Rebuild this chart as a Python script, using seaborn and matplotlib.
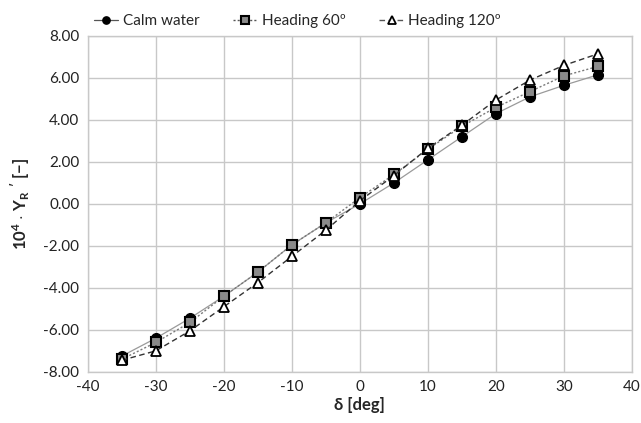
import matplotlib
matplotlib.use("Agg")
import matplotlib.pyplot as plt
import seaborn as sns
import pandas as pd

delta = [-35, -30, -25, -20, -15, -10, -5, 0, 5, 10, 15, 20, 25, 30, 35]
calm = [-7.25, -6.4, -5.45, -4.4, -3.25, -1.95, -0.9, 0.0, 1.0, 2.1, 3.2, 4.3, 5.1, 5.65, 6.15]
head60 = [-7.4, -6.6, -5.65, -4.4, -3.25, -1.95, -0.9, 0.3, 1.4, 2.6, 3.7, 4.6, 5.35, 6.1, 6.55]
head120 = [-7.45, -7.0, -6.05, -4.9, -3.75, -2.5, -1.25, 0.15, 1.35, 2.65, 3.75, 4.95, 5.9, 6.6, 7.15]
series_names = ["Calm water", "Heading 60º", "Heading 120º"]
xticks = [-40, -30, -20, -10, 0, 10, 20, 30, 40]
yticks = [-8, -6, -4, -2, 0, 2, 4, 6, 8]

df = pd.DataFrame({"delta": delta * 3,
                   "Y": calm + head60 + head120,
                   "series": [series_names[0]] * 15 + [series_names[1]] * 15 + [series_names[2]] * 15})

sns.set_theme(style="whitegrid")
plt.rcParams['font.family'] = ['Lato', 'DejaVu Sans']
plt.rcParams['mathtext.fontset'] = 'custom'
plt.rcParams['mathtext.rm'] = 'Lato'
plt.rcParams['mathtext.bf'] = 'Lato:bold'

fig = plt.figure(figsize=(6.41, 4.23), dpi=100)
ax = fig.add_axes([0.137, 0.121, 0.849, 0.794])

styles = {
    series_names[0]: dict(color="#9a9a9a", ls="-", lw=0.9, marker="o", mfc="black", mec="black", ms=7),
    series_names[1]: dict(color="#7a7a7a", ls=(0, (1.5, 1.5)), lw=1.0, marker="s", mfc="#8a8a8a", mec="black", ms=7, mew=1.5),
    series_names[2]: dict(color="#333333", ls=(0, (4, 2.5)), lw=1.0, marker="^", mfc="white", mec="black", ms=7, mew=1.3),
}
for name in series_names:
    st = styles[name]
    sub = df[df.series == name]
    sns.lineplot(data=sub, x="delta", y="Y", ax=ax, label=name, color=st["color"],
                 linestyle=st["ls"], linewidth=st["lw"], marker=st["marker"],
                 markerfacecolor=st["mfc"], markeredgecolor=st["mec"], markersize=st["ms"],
                 markeredgewidth=st.get("mew", 1.0))

ax.set_xlim(-40, 40)
ax.set_ylim(-8, 8)
ax.set_xticks(xticks)
ax.set_xticklabels([str(t) for t in xticks])
ax.set_yticks(yticks)
ax.set_yticklabels([f"{t:.2f}" for t in yticks])
ax.tick_params(labelsize=11, colors="#222222", pad=6, length=0)
ax.grid(True, color="#c8c8c8", lw=1.0)
for s in ax.spines.values():
    s.set_color("#c8c8c8")
    s.set_linewidth(1.0)
ax.set_xlabel("δ [deg]", fontsize=12, fontweight="bold", labelpad=2)
ax.set_ylabel(r"$\mathbf{10^4}$ $\mathbf{\cdot}$ $\mathbf{Y_R}$ $\mathbf{'}$ $\mathbf{[-]}$", fontsize=12, labelpad=8)

leg = ax.legend(loc="lower center", bbox_to_anchor=(0.385, 0.995), ncol=3, frameon=False,
                fontsize=11, handlelength=1.6, columnspacing=2.2, handletextpad=0.3,
                borderaxespad=0.2, markerscale=0.75)
for line in leg.get_lines():
    line.set_color("#555555")

fig.savefig("out.png", dpi=100)
